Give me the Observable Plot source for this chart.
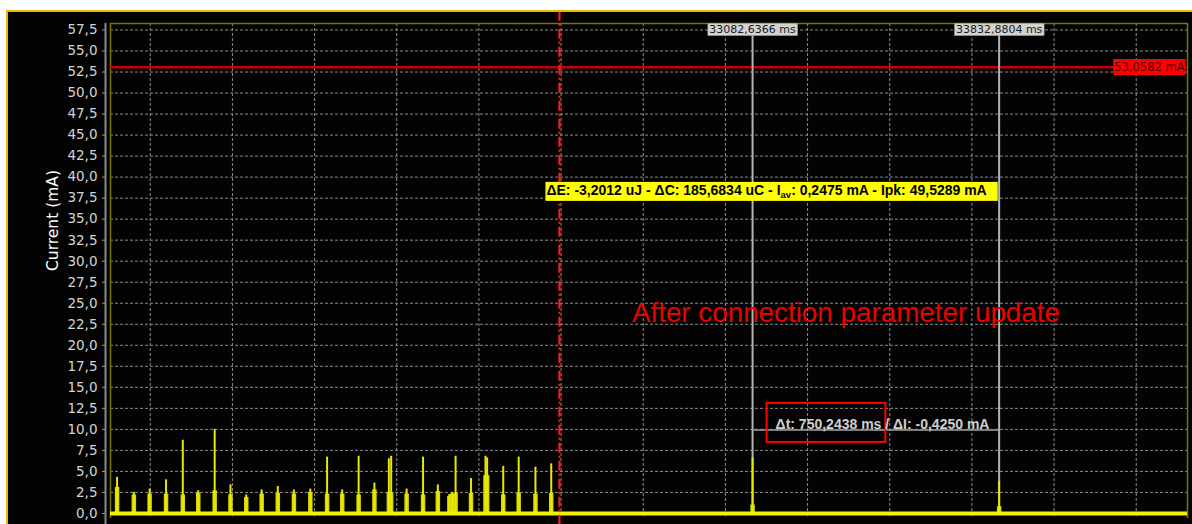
<!DOCTYPE html>
<html><head><meta charset="utf-8">
<script src="https://cdn.jsdelivr.net/npm/d3@7"></script>
<script src="https://cdn.jsdelivr.net/npm/@observablehq/plot@0.6"></script>
<style>
html,body{margin:0;padding:0;background:#fff;width:1192px;height:524px;overflow:hidden}
#panel{position:absolute;left:6px;top:10px;right:0;bottom:0;background:#030303;border-top:2px solid #f3b300;border-left:2px solid #f3b300}
#chart{position:absolute;left:0;top:0}
</style></head>
<body><div id="panel"></div><div id="chart"></div>
<script>
// ---- data ----
const yTicks = [0, 2.5, 5, 7.5, 10, 12.5, 15, 17.5, 20, 22.5, 25, 27.5, 30, 32.5, 35, 37.5, 40, 42.5, 45, 47.5, 50, 52.5, 55, 57.5];
const xGridTimes = [31250, 31500, 31750, 32000, 32250, 32500, 32750, 33000, 33250, 33500, 33750, 34000, 34250];
const spikeTimes = [31149, 31200, 31248, 31298, 31349, 31396, 31446, 31494, 31542, 31589, 31638, 31687, 31737, 31788, 31834, 31884, 31932, 31976, 31983, 32030, 32080, 32125, 32160, 32169, 32179, 32226, 32270, 32275, 32324, 32371, 32422, 32470, 33082.6366, 33832.8804];
const spikePeaks = [4.3, 2.5, 2.9, 4.0, 8.7, 2.7, 10.0, 3.4, 2.2, 2.8, 3.2, 2.8, 2.9, 6.7, 2.8, 6.8, 3.6, 6.5, 6.8, 2.9, 6.7, 3.4, 2.25, 2.5, 6.8, 4.15, 6.8, 6.6, 5.6, 6.7, 5.5, 5.9, 6.6, 3.8];
const spikeBodies = [3.1, 2.2, 2.3, 2.3, 2.2, 2.4, 2.7, 2.2, 1.9, 2.3, 2.4, 2.3, 2.5, 2.3, 2.3, 2.2, 2.8, 2.5, 2.5, 2.3, 2.2, 2.6, 2.0, 2.3, 2.4, 2.4, 4.5, 4.5, 2.2, 2.4, 2.3, 2.4, 1.0, 0.8];
const cursorTimes = [33082.6366, 33832.8804];
const cursorLabels = ["33082,6366 ms", "33832,8804 ms"];
const markerTime = 32495;
const levelValue = 53.0582;
const levelLabel = "53,0582 mA";
const statsLabel = "ΔE: -3,2012 uJ - ΔC: 185,6834 uC - I_av: 0,2475 mA - Ipk: 49,5289 mA";
const deltaLabel = "Δt: 750,2438 ms / ΔI: -0,4250 mA";
const annotation = "After connection parameter update";
const yTitle = "Current (mA)";

// ---- chart ----
const xDomain = [31129, 34406];
const yDomain = [-0.6, 58.27];
const spikes = spikeTimes.map((t, i) => ({t, peak: spikePeaks[i], body: spikeBodies[i]}));
const fmt = d => d.toFixed(1).replace(".", ",");
const sans = "'Liberation Sans', Arial, sans-serif";
const olive = "#767600";

const chart = Plot.plot({
  width: 1192, height: 524,
  marginLeft: 110, marginRight: 5, marginTop: 23, marginBottom: 6,
  x: {domain: xDomain, axis: null},
  y: {domain: yDomain, axis: null},
  style: {background: "transparent", fontFamily: "'DejaVu Sans', sans-serif", overflow: "visible"},
  marks: [
    Plot.gridY({ticks: yTicks, stroke: "#8c8c8c", strokeOpacity: 1, strokeDasharray: "3,2"}),
    Plot.gridX({ticks: xGridTimes, stroke: "#8c8c8c", strokeOpacity: 1, strokeDasharray: "3,2"}),
    Plot.ruleY([yDomain[1]], {stroke: olive, strokeWidth: 1.5}),
    Plot.ruleX(xDomain, {stroke: olive, strokeWidth: 1.5}),
    Plot.axisY({ticks: yTicks, text: null, tickSize: 4, dx: -4, stroke: "#9a9a9a", label: null}),
    Plot.text(yTicks, {frameAnchor: "left", y: d => d, text: fmt, textAnchor: "end", dx: -13, fill: "#d4d4d4", fontSize: 13.5}),
    Plot.ruleX([xDomain[0]], {y1: -1.4, y2: yDomain[1], dx: -5, stroke: "#8a8a8a", strokeWidth: 2}),
    Plot.ruleY([levelValue], {stroke: "#c40000", strokeWidth: 2.5}),
    Plot.ruleX(cursorTimes, {y1: 0, y2: 56.85, stroke: "#b4b4b4", strokeWidth: 2}),
    Plot.ruleY([9.93], {x1: cursorTimes[0], x2: cursorTimes[1], stroke: "#a0a0a0", strokeWidth: 1.5}),
    Plot.ruleX(spikes, {x: "t", y1: 0, y2: "body", stroke: "#d6d600", strokeWidth: 4.5}),
    Plot.ruleX(spikes, {x: "t", y1: 0, y2: "peak", stroke: "#e8e800", strokeWidth: 2}),
    Plot.ruleY([0], {stroke: "#f2f200", strokeWidth: 4}),
    Plot.ruleX([markerTime], {y1: -1.4, y2: 59.6, stroke: "#ff1a1a", strokeWidth: 2.2, strokeDasharray: "10,3,2,3"}),
    Plot.text([yTitle], {frameAnchor: "left", dx: -57, rotate: -90, text: d => d, fill: "#ffffff", fontSize: 15.5}),
    Plot.text(cursorTimes, {x: d => d, y: 57.56, text: (d, i) => cursorLabels[i], fill: "#1a1a1a", fontSize: 11, textAnchor: "middle"}),
    Plot.text([levelLabel], {x: xDomain[1], y: levelValue, text: d => d, textAnchor: "end", dx: -3, fill: "#4a0000", fontSize: 11.5}),
    Plot.text([statsLabel], {x: 32455.5, y: 38.36, text: d => d, textAnchor: "start", fill: "#000", fontSize: 14, fontWeight: "bold", fontFamily: sans}),
    Plot.text([deltaLabel], {x: cursorTimes[0], dx: 23, y: 9.93, dy: -1, lineAnchor: "bottom", text: d => d, textAnchor: "start", fill: "#cfcfcf", fontSize: 14, fontWeight: "bold", fontFamily: sans}),
    Plot.text([annotation], {x: 33366.7, y: 23.8, text: d => d, fill: "#ee0000", fontSize: 27.8, fontFamily: sans})
  ]
});
document.getElementById("chart").appendChild(chart);

// ---- post-processing: label boxes ----
const NS = "http://www.w3.org/2000/svg";
const texts = [...chart.querySelectorAll("text")];
function findText(s) { return texts.find(e => e.textContent === s); }
function addRect(t, x, y, w, h, attrs) {
  const r = document.createElementNS(NS, "rect");
  r.setAttribute("x", x); r.setAttribute("y", y); r.setAttribute("width", w); r.setAttribute("height", h);
  if (t.getAttribute("transform")) r.setAttribute("transform", t.getAttribute("transform"));
  for (const k in attrs) r.setAttribute(k, attrs[k]);
  t.parentNode.insertBefore(r, t);
  return r;
}
function box(t, p, attrs) {
  const b = t.getBBox();
  addRect(t, b.x - p[0], b.y - p[1], b.width + p[0] + p[2], b.height + p[1] + p[3], attrs);
}
const st = findText(statsLabel);
if (st) {
  const [a, c] = statsLabel.split("I_av");
  st.textContent = "";
  st.appendChild(document.createTextNode(a + "I"));
  const sub = document.createElementNS(NS, "tspan");
  sub.setAttribute("font-size", "9.5"); sub.setAttribute("dy", "3"); sub.textContent = "av";
  st.appendChild(sub);
  const rest = document.createElementNS(NS, "tspan");
  rest.setAttribute("dy", "-3"); rest.textContent = c;
  st.appendChild(rest);
  box(st, [1, 0.5, 11, 0.5], {fill: "#ffff00"});
}
cursorLabels.forEach(s => { const t = findText(s); if (t) box(t, [1.5, -0.4, 1.5, -0.4], {fill: "#d2d2d2", stroke: "#9a9a9a", "stroke-width": 0.5}); });
const lv = findText(levelLabel); if (lv) box(lv, [1, 1, 1, 1], {fill: "#ff0000"});
const dt = findText(deltaLabel);
if (dt) {
  const b = dt.getBBox();
  const x0 = dt.getStartPositionOfChar(0).x, x1 = dt.getEndPositionOfChar(14).x;
  addRect(dt, x0 - 9, b.y - 13, (x1 - x0) + 13, b.height + 23, {fill: "none", stroke: "#ff0000", "stroke-width": 2});
}
</script>
</body></html>
